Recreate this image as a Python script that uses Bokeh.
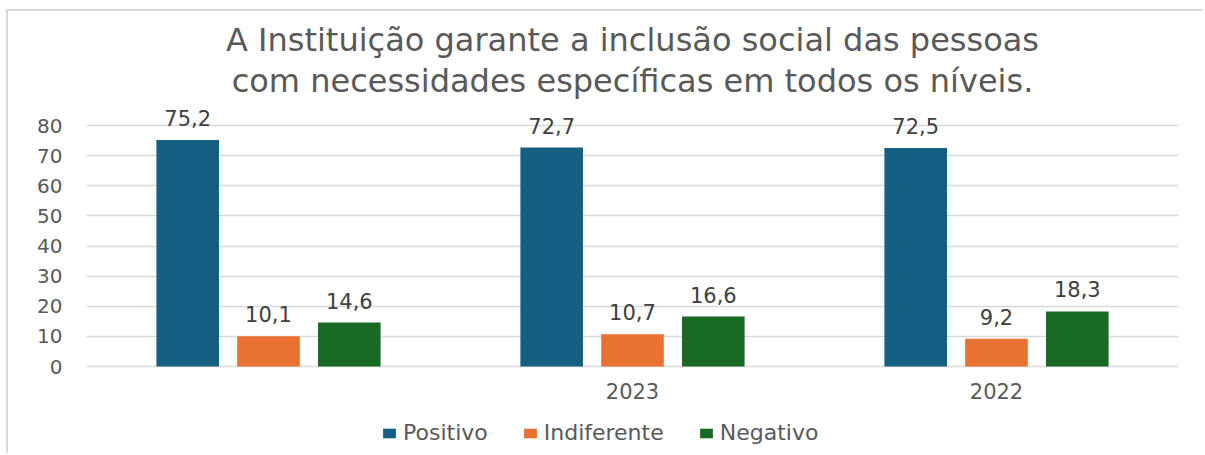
from bokeh.plotting import figure
from bokeh.models import ColumnDataSource, FactorRange, Range1d, Title, Legend, LegendItem, FixedTicker
from bokeh.transform import dodge
from bokeh.core.properties import value
from bokeh.embed import file_html
from bokeh.resources import INLINE

categories = [" ", "2023", "2022"]
series = ["Positivo", "Indiferente", "Negativo"]
positivo = [75.2, 72.7, 72.5]
indiferente = [10.1, 10.7, 9.2]
negativo = [14.6, 16.6, 18.3]
colors = ["#156082", "#E97132", "#196B24"]
y_ticks = [0, 10, 20, 30, 40, 50, 60, 70, 80]
title_lines = ["A Instituição garante a inclusão social das pessoas",
               "com necessidades específicas em todos os níveis."]

FONT = "DejaVu Sans"
TXT = "#595959"


def fmt(v):
    return f"{v:.1f}".replace(".", ",")


data = dict(cat=categories, Positivo=positivo, Indiferente=indiferente, Negativo=negativo)
for s in series:
    data["lbl_" + s] = [fmt(v) for v in data[s]]
src = ColumnDataSource(data)

p = figure(x_range=FactorRange(*categories), y_range=Range1d(-29.5, 88.3),
           width=1197, height=444, output_backend="svg", toolbar_location=None,
           min_border_left=78, min_border_right=27, min_border_top=89, min_border_bottom=0,
           title=title_lines[0])
p.styles = {"margin-top": "9px", "margin-left": "6px",
            "margin-bottom": "-16px", "margin-right": "-16px",
            "border-top": "2px solid #d9d9d9", "border-left": "2px solid #d9d9d9"}

p.title.align = "center"
p.title.text_font = FONT
p.title.text_font_size = "32px"
p.title.text_font_style = "normal"
p.title.text_color = TXT
p.title.standoff = 0
t2 = Title(text=title_lines[1], align="center", text_font=FONT, text_font_size="32px",
           text_font_style="normal", text_color=TXT, standoff=2)
p.add_layout(t2, "above")

offsets = [-0.222, 0.0, 0.222]
items = []
for s, c, off in zip(series, colors, offsets):
    r = p.vbar(x=dodge("cat", off, range=p.x_range), top=s, width=0.172, source=src,
               fill_color=c, line_color=None)
    p.text(x=dodge("cat", off, range=p.x_range), y=s, text="lbl_" + s, source=src,
           text_align="center", text_baseline="bottom", y_offset=-14,
           text_font=value(FONT), text_font_size="21px", text_color="#404040")
    items.append(LegendItem(label=s, renderers=[r]))

p.yaxis.ticker = FixedTicker(ticks=y_ticks)
p.yaxis.axis_line_color = None
p.yaxis.major_tick_line_color = None
p.yaxis.minor_tick_line_color = None
p.yaxis.major_label_standoff = 18
p.yaxis.major_label_text_font = FONT
p.yaxis.major_label_text_font_size = "20px"
p.yaxis.major_label_text_color = TXT

p.xaxis.fixed_location = 0
p.xaxis.axis_line_color = None
p.xaxis.major_tick_line_color = None
p.xaxis.major_label_standoff = 7
p.xaxis.major_label_text_font = FONT
p.xaxis.major_label_text_font_size = "21px"
p.xaxis.major_label_text_color = TXT

p.xgrid.grid_line_color = None
p.ygrid.grid_line_color = "#d9d9d9"
p.ygrid.grid_line_width = 1.5
p.outline_line_color = None

legend = Legend(items=items, orientation="horizontal", location=(295, 10), nrows=1,
                label_text_font=FONT, label_text_font_size="22px", label_text_color=TXT,
                label_height=20, glyph_width=16, glyph_height=12, label_standoff=6, spacing=34,
                border_line_color=None, background_fill_alpha=0, margin=0, padding=0)
p.add_layout(legend)

open("out.html", "w").write(file_html(p, INLINE))
